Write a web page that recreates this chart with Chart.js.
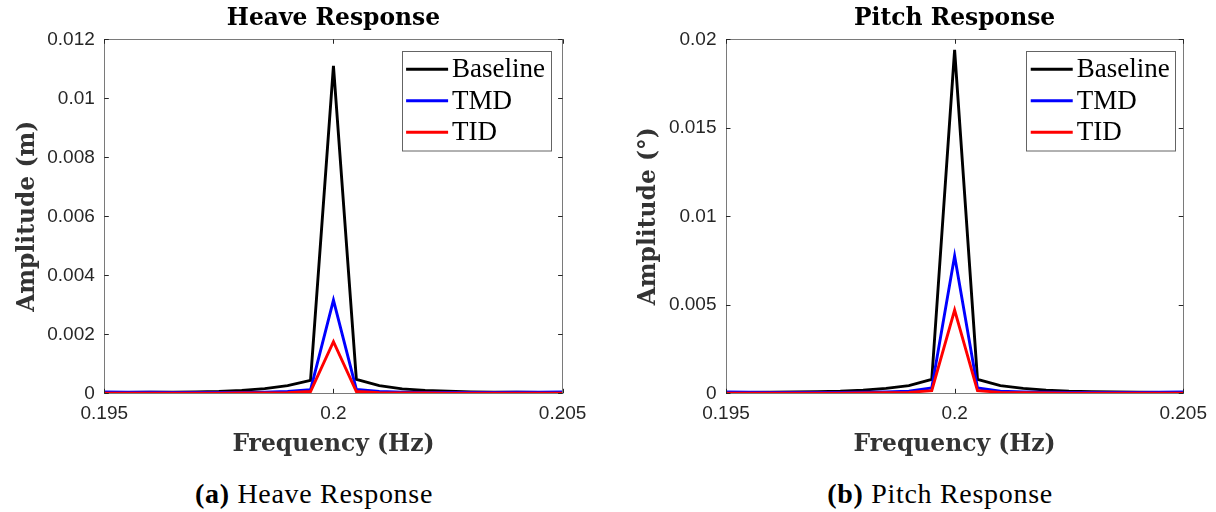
<!DOCTYPE html>
<html>
<head>
<meta charset="utf-8">
<script src="https://cdn.jsdelivr.net/npm/chart.js@4.4.1/dist/chart.umd.min.js"></script>
<style>
  html, body { margin: 0; padding: 0; background: #fff; }
  body { width: 1216px; height: 512px; position: relative; overflow: hidden; }
  canvas { position: absolute; top: 0; }
  #heave { left: 0; }
  #pitch { left: 600px; }
  .caption {
    position: absolute; top: 479.6px; width: 400px; text-align: center;
    font: 28px/28px "Liberation Serif", serif; letter-spacing: 0.7px;
    color: #000; white-space: nowrap;
  }
  .caption b { font-weight: bold; }
</style>
</head>
<body>
<canvas id="heave" width="600" height="470"></canvas>
<canvas id="pitch" width="616" height="470"></canvas>
<div class="caption" style="left:114px"><b>(a)</b> Heave Response</div>
<div class="caption" style="left:740px"><b>(b)</b> Pitch Response</div>
<script>
/* Heave / pitch amplitude spectra around 0.2 Hz – MATLAB-style figure */

const freq = [0.195, 0.1955, 0.196, 0.1965, 0.197, 0.1975, 0.198, 0.1985, 0.199, 0.1995,
  0.2, 0.2005, 0.201, 0.2015, 0.202, 0.2025, 0.203, 0.2035, 0.204, 0.2045, 0.205];

const heaveBaseline = [0.00003, 0.00003, 0.00004, 0.00004, 0.00005, 0.00006, 0.0001, 0.00016, 0.00026, 0.00044,
  0.0111, 0.00047, 0.00026, 0.00015, 0.0001, 0.00007, 0.00005, 0.00004, 0.00004, 0.00003, 0.00003];
const heaveTMD = [0.00005, 0.00004, 0.00004, 0.00003, 0.00003, 0.00003, 0.00003, 0.00004, 0.00006, 0.00012,
  0.00316, 0.00013, 0.00006, 0.00004, 0.00003, 0.00003, 0.00003, 0.00003, 0.00004, 0.00004, 0.00005];
const heaveTID = [0, 0, 0, 0, 0, 0, 0.00001, 0.00001, 0.00002, 0.00006,
  0.00175, 0.00006, 0.00002, 0.00001, 0.00001, 0, 0, 0, 0, 0, 0];

const pitchBaseline = [0.00004, 0.00005, 0.00006, 0.00007, 0.00009, 0.00012, 0.00018, 0.00028, 0.00043, 0.00078,
  0.0194, 0.00079, 0.00043, 0.00028, 0.00018, 0.00012, 0.00009, 0.00007, 0.00006, 0.00005, 0.00004];
const pitchTMD = [0.00008, 0.00006, 0.00005, 0.00005, 0.00005, 0.00005, 0.00006, 0.00008, 0.00012, 0.0003,
  0.00776, 0.0003, 0.00012, 0.00008, 0.00006, 0.00005, 0.00005, 0.00005, 0.00005, 0.00006, 0.00008];
const pitchTID = [0, 0, 0, 0, 0.00001, 0.00001, 0.00002, 0.00003, 0.00005, 0.00015,
  0.0047, 0.00015, 0.00005, 0.00003, 0.00002, 0.00001, 0.00001, 0, 0, 0, 0];

const seriesNames = ['Baseline', 'TMD', 'TID'];
const seriesColors = ['#000000', '#0000ff', '#ff0000'];

const xTicks = [0.195, 0.2, 0.205];
const heaveYTicks = [0, 0.002, 0.004, 0.006, 0.008, 0.01, 0.012];
const pitchYTicks = [0, 0.005, 0.01, 0.015, 0.02];

const SERIF = '"DejaVu Serif", serif';
const LEGEND_SERIF = '"Liberation Serif", serif';
const SANS = '"Liberation Sans", Arial, sans-serif';
const AXIS_GREY = '#262626';
const LINE_W = 2.9;
const HEAD_FONT = {family: SERIF, size: 23.4, weight: 'bold', lineHeight: 1.2};

const fmt = (v) => String(parseFloat(Number(v).toPrecision(6)));

// box round the axes + ticks pointing inwards on all four sides
const matlabBox = {
  id: 'matlabBox',
  afterDatasetsDraw(chart) {
    const {ctx, chartArea: a, scales: {x, y}} = chart;
    const len = 4.5;
    ctx.save();
    ctx.strokeStyle = '#7a7a7a';
    ctx.lineWidth = 1;
    ctx.strokeRect(Math.round(a.left) + 0.5, Math.round(a.top) + 0.5,
      Math.round(a.right - a.left), Math.round(a.bottom - a.top));
    ctx.strokeStyle = AXIS_GREY;
    ctx.beginPath();
    x.ticks.forEach((t) => {
      const px = Math.round(x.getPixelForValue(t.value)) + 0.5;
      ctx.moveTo(px, a.bottom); ctx.lineTo(px, a.bottom - len);
      ctx.moveTo(px, a.top); ctx.lineTo(px, a.top + len);
    });
    y.ticks.forEach((t) => {
      const py = Math.round(y.getPixelForValue(t.value)) + 0.5;
      ctx.moveTo(a.left, py); ctx.lineTo(a.left + len, py);
      ctx.moveTo(a.right, py); ctx.lineTo(a.right - len, py);
    });
    ctx.stroke();
    ctx.restore();
  },
};

// MATLAB "northeast" legend drawn from the datasets
const boxLegend = {
  id: 'boxLegend',
  afterDraw(chart, args, opts) {
    const {ctx, chartArea: a} = chart;
    const w = 149, h = 99.5;
    const left = a.right - opts.insetRight - w;
    const top = a.top + 11.5;
    ctx.save();
    ctx.fillStyle = '#fff';
    ctx.fillRect(left, top, w, h);
    ctx.strokeStyle = '#646464';
    ctx.lineWidth = 1;
    ctx.strokeRect(Math.round(left) + 0.5, Math.round(top) + 0.5, w, h);
    ctx.font = '27px ' + LEGEND_SERIF;
    ctx.textBaseline = 'middle';
    ctx.textAlign = 'left';
    chart.data.datasets.forEach((ds, i) => {
      const yy = top + 18.5 + i * 31.5;
      ctx.strokeStyle = ds.borderColor;
      ctx.lineWidth = LINE_W;
      ctx.beginPath();
      ctx.moveTo(left + 4.5, yy);
      ctx.lineTo(left + 46.5, yy);
      ctx.stroke();
      ctx.fillStyle = '#000';
      ctx.fillText(ds.label, left + 50.5, yy + 1);
    });
    ctx.restore();
  },
};

function makeChart(id, title, yTitle, series, yTicks, yMax, yAxisWidth, padRight, yTitlePad, legendInset) {
  return new Chart(document.getElementById(id), {
    type: 'line',
    data: {
      datasets: series.map((vals, i) => ({
        label: seriesNames[i],
        data: freq.map((f, k) => ({x: f, y: vals[k]})),
        borderColor: seriesColors[i],
        backgroundColor: seriesColors[i],
        borderWidth: LINE_W,
        pointRadius: 0,
        tension: 0,
        order: 3 - i,
      })),
    },
    options: {
      responsive: false,
      animation: false,
      devicePixelRatio: 1,
      layout: {padding: {left: 0, right: padRight, top: 0, bottom: 0}},
      plugins: {
        legend: {display: false},
        tooltip: {enabled: false},
        title: {
          display: true, text: title, fullSize: false, color: '#000',
          font: HEAD_FONT, padding: {top: 4.5, bottom: 6.7},
        },
        boxLegend: {insetRight: legendInset},
      },
      scales: {
        x: {
          type: 'linear', min: 0.195, max: 0.205,
          grid: {display: false, drawTicks: false},
          border: {display: false},
          afterBuildTicks: (s) => { s.ticks = xTicks.map((v) => ({value: v})); },
          afterFit: (s) => { s.height = 470 - 393.3; },
          ticks: {
            color: AXIS_GREY, padding: 9, maxRotation: 0, autoSkip: false,
            font: {family: SANS, size: 19}, callback: fmt,
          },
          title: {
            display: true, text: 'Frequency (Hz)', color: '#333',
            font: HEAD_FONT, padding: {top: 0, bottom: 11},
          },
        },
        y: {
          type: 'linear', min: 0, max: yMax,
          grid: {display: false, drawTicks: false},
          border: {display: false},
          afterBuildTicks: (s) => { s.ticks = yTicks.map((v) => ({value: v})); },
          afterFit: (s) => { s.width = yAxisWidth; },
          ticks: {
            color: AXIS_GREY, padding: 9.5, autoSkip: false,
            font: {family: SANS, size: 19}, callback: fmt,
          },
          title: {
            display: true, text: yTitle, color: '#333',
            font: HEAD_FONT, padding: {top: yTitlePad, bottom: 0},
          },
        },
      },
    },
    plugins: [matlabBox, boxLegend],
  });
}

makeChart('heave', 'Heave Response', 'Amplitude (m)',
  [heaveBaseline, heaveTMD, heaveTID], heaveYTicks, 0.012, 104.3, 37.4, 13.7, 12);
makeChart('pitch', 'Pitch Response', 'Amplitude (°)',
  [pitchBaseline, pitchTMD, pitchTID], pitchYTicks, 0.02, 126, 31.7, 34.7, 8);
</script>
</body>
</html>
